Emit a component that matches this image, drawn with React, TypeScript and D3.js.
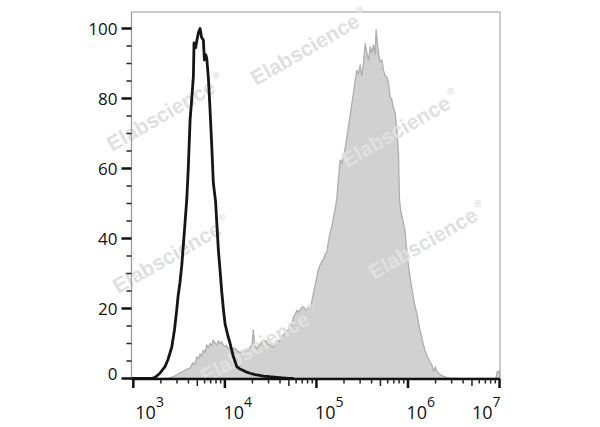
import React from "react";
import * as d3 from "d3";

// Isotype control histogram (black outline): log10 intensity and % of max
const controlLogX = [2.975, 3.1, 3.2, 3.237, 3.29, 3.346, 3.38, 3.42, 3.45, 3.474, 3.49, 3.51, 3.529, 3.557, 3.584, 3.6, 3.62, 3.64, 3.656, 3.663, 3.68, 3.693, 3.71, 3.729, 3.745, 3.765, 3.776, 3.79, 3.802, 3.82, 3.838, 3.857, 3.874, 3.898, 3.929, 3.95, 3.966, 3.985, 4.002, 4.03, 4.057, 4.093, 4.13, 4.16, 4.202, 4.24, 4.275, 4.33, 4.38, 4.42, 4.49, 4.567, 4.63, 4.694, 4.75];
const controlCount = [0, 0, 0, 0.3, 1.5, 3.4, 5.5, 9.0, 14, 19.6, 23.8, 27.5, 32.3, 41.8, 51.3, 60, 73.9, 80.5, 86.4, 95.9, 94.5, 96.4, 98.7, 100, 97.5, 96.7, 91, 92.5, 91.5, 85.8, 76.7, 66.2, 55.8, 50.7, 36.7, 30, 24.7, 19.5, 15.6, 12.5, 10, 6.2, 3.4, 2.8, 2.3, 1.8, 1.5, 1.1, 0.9, 0.7, 0.5, 0.35, 0.2, 0.05, 0];

// Stained sample histogram (gray filled)
const sampleLogX = [3.25, 3.383, 3.43, 3.474, 3.51, 3.543, 3.58, 3.62, 3.65, 3.67, 3.693, 3.71, 3.729, 3.745, 3.765, 3.785, 3.802, 3.82, 3.838, 3.855, 3.874, 3.89, 3.911, 3.93, 3.945, 3.966, 3.99, 4.013, 4.035, 4.057, 4.08, 4.105, 4.13, 4.15, 4.166, 4.185, 4.202, 4.225, 4.25, 4.275, 4.295, 4.311, 4.325, 4.349, 4.37, 4.385, 4.405, 4.421, 4.44, 4.457, 4.475, 4.494, 4.51, 4.53, 4.55, 4.567, 4.585, 4.603, 4.62, 4.639, 4.655, 4.676, 4.695, 4.713, 4.73, 4.749, 4.77, 4.786, 4.805, 4.822, 4.84, 4.858, 4.875, 4.895, 4.912, 4.931, 4.95, 4.967, 4.985, 5.004, 5.02, 5.04, 5.06, 5.077, 5.095, 5.114, 5.13, 5.15, 5.17, 5.186, 5.205, 5.223, 5.24, 5.259, 5.275, 5.295, 5.315, 5.332, 5.35, 5.37, 5.387, 5.404, 5.42, 5.441, 5.46, 5.477, 5.495, 5.514, 5.532, 5.551, 5.57, 5.587, 5.605, 5.623, 5.64, 5.652, 5.665, 5.678, 5.695, 5.715, 5.732, 5.75, 5.769, 5.787, 5.806, 5.824, 5.84, 5.86, 5.879, 5.896, 5.907, 5.92, 5.933, 5.95, 5.969, 5.987, 6.005, 6.025, 6.043, 6.07, 6.097, 6.125, 6.152, 6.18, 6.207, 6.235, 6.261, 6.279, 6.298, 6.315, 6.333, 6.36, 6.388, 6.42, 6.461, 6.52, 6.57, 6.68, 6.96, 6.975, 7.0];
const sampleCount = [0, 0.1, 0.5, 1.0, 1.6, 2.0, 2.6, 3.0, 4.5, 3.8, 6.2, 5.5, 7.0, 6.4, 8.1, 7.5, 9.6, 8.8, 10.0, 9.2, 11.0, 10.2, 9.6, 10.8, 9.9, 10.5, 9.2, 9.5, 8.6, 9.0, 8.4, 8.7, 8.1, 7.7, 7.3, 7.9, 7.6, 8.3, 8.0, 9.0, 9.4, 13.9, 9.2, 8.5, 9.8, 9.5, 10.6, 10.0, 10.9, 10.5, 9.6, 9.8, 9.2, 9.0, 10.2, 11, 10.6, 11, 12.0, 12.4, 12.9, 13.5, 14.0, 14.4, 15.5, 17.6, 18.4, 19.5, 18.9, 19.6, 20.3, 20.5, 19.8, 19.5, 20.4, 19.6, 22.0, 24.4, 26.5, 29.0, 31.0, 32.4, 33.5, 34, 35.5, 36, 39.0, 41.8, 43.5, 46.0, 48.5, 51.5, 57.0, 62.4, 61.5, 63.3, 66.0, 69, 72, 75.5, 78.6, 81.5, 84.5, 88.1, 87.0, 89.5, 86.5, 90, 95.7, 92.9, 91.0, 94.8, 93.0, 95.3, 92.5, 99.6, 96.0, 92.9, 90.5, 91, 88.1, 86.5, 86.2, 84.3, 80.5, 79.6, 77.5, 75.8, 71, 64.4, 51.3, 48.0, 46.5, 44.5, 41.8, 36.5, 32.2, 28.5, 25.6, 21.5, 18.5, 14.5, 11.5, 8.5, 6.5, 5.0, 3.8, 2.0, 3.3, 2.2, 1.5, 1.0, 0.6, 0.3, 0.1, 0.08, 0.05, 0, 0, 2.0, 2.0];

const yTicks = [0, 20, 40, 60, 80, 100];
const xDecades = [3, 4, 5, 6, 7];
const watermarkText = "Elabscience";
const watermarkAnchors: [number, number][] = [
  [256, 86],
  [112, 152],
  [347, 168],
  [374, 280],
  [118, 294],
  [206, 384],
];

const W = 600;
const H = 427;
const LEFT = 131.5;
const RIGHT = 500;
const TOP = 12;
const BOTTOM = 379;
const FONT = "'Open Sans', 'DejaVu Sans', sans-serif";
const WM_FONT = "'Liberation Sans', Arial, sans-serif";

export default function App() {
  const x = d3.scaleLog().domain([10 ** 2.98, 10 ** 7.005]).range([LEFT, RIGHT]);
  const y = d3.scaleLinear().domain([0, 100]).range([378.5, 28.5]);

  const sample = sampleLogX.map((lx, i) => [10 ** lx, sampleCount[i]] as [number, number]);
  const control = controlLogX.map((lx, i) => [10 ** lx, controlCount[i]] as [number, number]);

  const area = d3
    .area<[number, number]>()
    .x((d) => x(d[0]))
    .y0(y(0))
    .y1((d) => y(d[1]));
  const line = d3
    .line<[number, number]>()
    .x((d) => x(d[0]))
    .y((d) => y(d[1]));

  const yMinor = d3.range(0, 101, 5).filter((v) => v % 20 !== 0);
  const xMinor: { v: number; m: number }[] = [];
  for (let e = 3; e < 7; e++) {
    for (let m = 2; m <= 9; m++) xMinor.push({ v: m * 10 ** e, m });
  }

  return (
    <svg width={W} height={H} style={{ display: "block", position: "absolute", left: 0, top: 0 }} fontFamily={FONT}>
      <rect x={0} y={0} width={W} height={H} fill="#ffffff" />
      {/* frame */}
      <rect x={LEFT} y={TOP} width={RIGHT - LEFT} height={BOTTOM - TOP} fill="none" stroke="#a8a8a8" strokeWidth={1.2} />

      {/* sample histogram */}
      <path d={area(sample) || ""} fill="#d1d1d1" stroke="#aeaeae" strokeWidth={1.3} strokeLinejoin="round" />

      {/* watermarks */}
      {watermarkAnchors.map(([wx, wy], i) => (
        <text
          key={i}
          transform={`translate(${wx},${wy}) rotate(-30)`}
          fontSize={21}
          fontWeight="bold"
          fill="#e0e0e0"
          fontFamily={WM_FONT}
        >
          {watermarkText}
          <tspan fontSize={10} dy={-11} dx={3}>®</tspan>
        </text>
      ))}

      {/* control histogram */}
      <path d={line(control) || ""} fill="none" stroke="#151515" strokeWidth={2.8} strokeLinejoin="round" />

      {/* y axis */}
      <line x1={LEFT} x2={LEFT} y1={TOP} y2={BOTTOM} stroke="#a0a0a0" strokeWidth={1.2} />
      {yTicks.map((t) => (
        <g key={t}>
          <line x1={LEFT - 10} x2={LEFT} y1={y(t)} y2={y(t)} stroke="#111" strokeWidth={2.5} />
          <text
            x={117.5}
            y={y(t) - (t === 0 ? 5 : 0)}
            textAnchor="end"
            dominantBaseline="central"
            fontSize={17}
            fontWeight={500}
            fill="#111"
          >
            {t}
          </text>
        </g>
      ))}
      {yMinor.map((t) => (
        <line key={t} x1={LEFT - 5} x2={LEFT} y1={y(t)} y2={y(t)} stroke="#222" strokeWidth={1.5} />
      ))}

      {/* x axis */}
      <line x1={LEFT} x2={RIGHT} y1={BOTTOM} y2={BOTTOM} stroke="#111" strokeWidth={2.5} />
      {xMinor.map((t, i) => (
        <line
          key={i}
          x1={x(t.v)}
          x2={x(t.v)}
          y1={BOTTOM}
          y2={BOTTOM + (t.m === 5 ? 7 : 4.5)}
          stroke="#222"
          strokeWidth={1.5}
        />
      ))}
      {xDecades.map((e, i) => {
        const tx = x(10 ** e);
        const last = i === xDecades.length - 1;
        const first = i === 0;
        return (
          <g key={e}>
            <line x1={tx} x2={tx} y1={BOTTOM} y2={BOTTOM + 9} stroke="#111" strokeWidth={2.5} />
            <text
              x={last ? tx + 1 : first ? tx + 2 : tx - 1.5}
              y={419}
              textAnchor={last ? "end" : "start"}
              fontSize={18}
              fontWeight={500}
              fill="#111"
            >
              10
              <tspan fontSize={14} dy={-12}>{e}</tspan>
            </text>
          </g>
        );
      })}
    </svg>
  );
}
